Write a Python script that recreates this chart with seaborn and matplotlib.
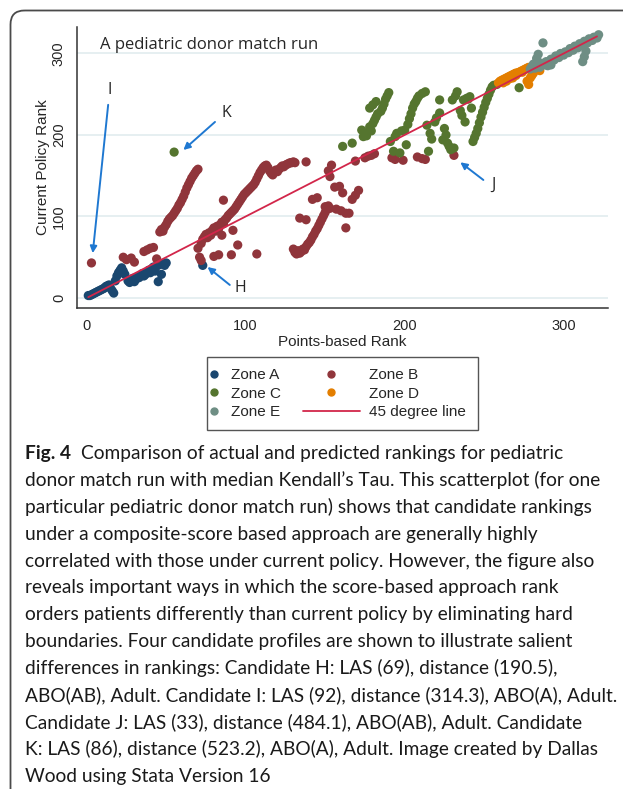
import matplotlib
matplotlib.use("Agg")
import matplotlib.pyplot as plt
from matplotlib.lines import Line2D
from matplotlib.patches import FancyBboxPatch, Rectangle
import pandas as pd
import seaborn as sns


# --------------------------------------------------
# Data: points-based rank (x) vs current policy rank (y)
# --------------------------------------------------
zone_a_x = [1, 2, 3, 4, 5, 6, 7, 8, 9, 10, 11, 12, 13, 14, 15, 16, 17, 18, 19, 20, 21, 22, 23, 24,
            26, 27, 28, 29, 30, 31, 32, 33, 34, 35, 36, 37, 38, 39, 40, 41, 42, 43, 44, 45, 46, 47, 48, 49, 50,
            73]
zone_a_y = [3, 3, 4, 5, 6, 7, 8, 9, 10, 11, 12, 14, 15, 16, 12, 9, 6, 21, 27, 31, 34, 37, 33, 29,
            21, 19, 22, 24, 20, 23, 26, 25, 28, 30, 27, 29, 32, 34, 31, 36, 38, 33, 39, 20, 41, 29, 42, 40, 43,
            40]

zone_b_x = [3,
            23, 25, 28, 30, 36, 38, 40, 42, 44,
            46, 47, 48, 49, 50, 51, 52, 53, 54, 55, 56, 57, 58, 59, 60, 61, 62, 63, 64, 65, 66, 67, 68, 69, 70,
            71, 72, 70, 80, 83, 91, 107, 95, 86, 85, 92,
            72, 73, 74, 75, 76, 77, 78, 79, 80, 81,
            82, 83, 84, 85, 86, 87, 88, 89, 90, 91,
            92, 93, 94, 95, 96, 97, 98, 99, 100, 101,
            102, 103, 104, 105, 106, 107, 108, 109, 110, 111,
            112, 113, 114, 115, 116, 117, 118, 119, 120, 121,
            122, 123, 124, 125, 126, 127, 128, 129, 130, 131, 138,
            130, 131, 132, 133, 134, 135, 136, 137, 138, 139,
            140, 141, 142, 143, 144, 145, 146, 147, 148, 149,
            150, 151, 152, 134, 138, 142, 145, 150, 153, 157,
            160, 163, 165, 163, 167, 169, 171, 156, 159, 161,
            153, 152, 154,
            169, 175, 177, 179, 181, 192, 194, 199, 208, 211, 213, 231]
zone_b_y = [43,
            50, 47, 49, 44, 57, 59, 61, 62, 48,
            81, 84, 82, 87, 90, 94, 97, 99, 101, 104, 107, 110, 114, 117, 121, 125, 130, 135, 139, 143, 147, 150, 153, 156, 158,
            50, 46, 61, 51, 53, 53, 54, 65, 120, 77, 83,
            67, 72, 75, 78, 74, 80, 77, 83, 86, 82,
            88, 85, 90, 93, 91, 96, 98, 101, 103, 105,
            107, 109, 112, 115, 118, 121, 124, 127, 129, 131,
            133, 135, 137, 139, 142, 146, 150, 154, 157, 160,
            162, 163, 160, 156, 153, 151, 154, 157, 155, 158,
            160, 162, 161, 163, 164, 165, 166, 166, 167, 166, 167,
            60, 56, 54, 58, 55, 57, 60, 59, 63, 66,
            68, 71, 75, 78, 82, 85, 89, 93, 97, 101,
            105, 109, 113, 98, 96, 121, 123, 112, 110, 109,
            107, 104, 104, 86, 121, 126, 132, 136, 137, 129,
            149, 156, 163,
            168, 172, 174, 175, 177, 172, 170, 169, 173, 171, 170, 175]

zone_c_x = [55, 161, 167,
            173, 174, 175, 176, 178, 179, 180, 181, 182, 183,
            178, 180, 182, 185, 186, 187, 188, 189, 190,
            191, 193, 194, 195, 197, 198, 200, 201, 202, 203,
            204, 205, 206, 207, 208, 209, 211, 213, 214, 215,
            216, 217, 219, 220, 222, 222,
            224, 225, 226, 227, 228, 229, 231, 230, 232, 233,
            235, 236, 237, 238, 239, 240, 242,
            243, 244, 245, 246, 247, 248, 249, 250, 251, 252,
            253, 254, 255, 256, 258, 272, 241]
zone_c_y = [179, 186, 190,
            206, 198, 202, 199, 210, 205, 214, 218, 222, 226,
            233, 237, 241, 229, 233, 238, 244, 248, 252,
            192, 180, 198, 202, 178, 205, 206, 188, 213, 220,
            226, 233, 238, 241, 245, 248, 251, 253, 212, 180,
            202, 195, 216, 221, 227, 243,
            194, 208, 200, 190, 186, 182, 184, 243, 248, 253,
            230, 224, 243, 216, 245, 244, 233,
            192, 197, 202, 208, 215, 222, 228, 234, 240, 245,
            250, 255, 259, 261, 262, 258, 247]

zone_d_x = [259, 260, 261, 262, 263, 264, 265, 266, 267, 268,
            269, 270, 271, 272, 273, 274, 275, 276, 277, 278,
            279, 277, 278, 279, 280, 281, 285, 262, 266, 270,
            274, 264, 268]
zone_d_y = [264, 266, 267, 268, 269, 270, 271, 272, 273, 274,
            275, 276, 276, 277, 278, 279, 280, 281, 282, 283,
            280, 266, 262, 270, 273, 276, 279, 264, 269, 273,
            277, 266, 270]

zone_e_x = [279, 280, 282, 283, 285, 286, 288, 289, 291, 292,
            294, 295, 297, 298, 300, 301, 303, 304, 306, 307,
            309, 310, 312, 313, 315, 316, 318, 319, 321, 322,
            287, 284, 283, 281, 314, 313, 312, 290, 292]
zone_e_y = [281, 284, 282, 285, 283, 288, 286, 290, 288, 293,
            292, 297, 295, 300, 298, 302, 301, 306, 304, 309,
            307, 312, 310, 315, 313, 318, 316, 320, 319, 323,
            313, 299, 294, 287, 303, 296, 290, 285, 286]

zone_names = ['Zone A', 'Zone B', 'Zone C', 'Zone D', 'Zone E']
zone_colors = ['#1a476f', '#90353b', '#55752f', '#e37e00', '#6e8e84']

line_x = [1, 321]
line_y = [1, 321]

x_ticks = [0, 100, 200, 300]
y_ticks = [0, 100, 200, 300]

# candidate call-outs: label, label position, arrow tail, arrow tip
callout_labels = ['I', 'K', 'H', 'J']
callout_text_xy = [(14.7, 255), (88, 227), (96.4, 12), (255.6, 138.6)]
callout_tail_xy = [(13.5, 237), (80.7, 216), (90, 16), (249.5, 144.8)]
callout_tip_xy = [(3.8, 55), (60.8, 181.6), (76, 38), (235, 166.5)]

caption_lines = [
    "Comparison of actual and predicted rankings for pediatric",
    "donor match run with median Kendall\u2019s Tau. This scatterplot (for one",
    "particular pediatric donor match run) shows that candidate rankings",
    "under a composite-score based approach are generally highly",
    "correlated with those under current policy. However, the figure also",
    "reveals important ways in which the score-based approach rank",
    "orders patients differently than current policy by eliminating hard",
    "boundaries. Four candidate profiles are shown to illustrate salient",
    "differences in rankings: Candidate H: LAS (69), distance (190.5),",
    "ABO(AB), Adult. Candidate I: LAS (92), distance (314.3), ABO(A), Adult.",
    "Candidate J: LAS (33), distance (484.1), ABO(AB), Adult. Candidate",
    "K: LAS (86), distance (523.2), ABO(A), Adult. Image created by Dallas",
    "Wood using Stata Version 16",
]

# --------------------------------------------------
# Build the long table
# --------------------------------------------------
zone_xs = [zone_a_x, zone_b_x, zone_c_x, zone_d_x, zone_e_x]
zone_ys = [zone_a_y, zone_b_y, zone_c_y, zone_d_y, zone_e_y]
frames = []
for name, xs, ys in zip(zone_names, zone_xs, zone_ys):
    frames.append(pd.DataFrame({'points_rank': xs, 'policy_rank': ys, 'zone': name}))
df = pd.concat(frames, ignore_index=True)
line_df = pd.DataFrame({'points_rank': line_x, 'policy_rank': line_y})

sns.set_style('white')
plt.rcParams['font.family'] = ['Liberation Sans', 'DejaVu Sans']

W, H = 623, 789
fig = plt.figure(figsize=(W / 100, H / 100), dpi=100)

# full-figure axes in pixel units for the frame, legend and caption
bg = fig.add_axes([0, 0, 1, 1])
bg.set_xlim(0, W)
bg.set_ylim(H, 0)
bg.axis('off')
bg.add_patch(FancyBboxPatch((10.5, 10.5), 700, 900, boxstyle='round,pad=0,rounding_size=14',
                            fill=False, ec='#4a4a4a', lw=1.3))

# --------------------------------------------------
# Scatter
# --------------------------------------------------
ax = fig.add_axes([77 / W, 1 - 308 / H, (608 - 77) / W, (308 - 27) / H])
ax.set_facecolor('none')
sns.scatterplot(data=df, x='points_rank', y='policy_rank', hue='zone', hue_order=zone_names,
                palette=zone_colors, s=44, linewidth=0, alpha=1, legend=False, ax=ax, zorder=3)
sns.lineplot(data=line_df, x='points_rank', y='policy_rank', color='#d2264a', lw=1.3, ax=ax, zorder=4)

ax.set_xlim(-6.1, 327.9)
ax.set_ylim(-12.3, 332.5)
ax.set_xticks(x_ticks)
ax.set_yticks(y_ticks)
ax.grid(axis='y', color='#e4eef0', lw=1.3)
ax.set_axisbelow(True)
for side in ['top', 'right']:
    ax.spines[side].set_visible(False)
for side in ['left', 'bottom']:
    ax.spines[side].set_color('#333333')
    ax.spines[side].set_linewidth(1.1)
ax.tick_params(direction='out', length=5, width=1.1, color='#333333', labelsize=10.5, pad=3)
ax.tick_params(axis='y', labelrotation=90)
for lab in ax.get_yticklabels():
    lab.set_va('center')
ax.set_xlabel('Points-based Rank', fontsize=11, labelpad=1)
ax.set_ylabel('Current Policy Rank', fontsize=11, labelpad=1)

ax.text(8.4, 310, 'A pediatric donor match run', fontsize=12, family=['Open Sans', 'DejaVu Sans'],
        va='center', ha='left')

arrow_col = '#1f78d1'
for lab, txy, tail, tip in zip(callout_labels, callout_text_xy, callout_tail_xy, callout_tip_xy):
    ax.annotate('', xy=tip, xytext=tail,
                arrowprops=dict(arrowstyle='-|>', color=arrow_col, lw=1.4, mutation_scale=10,
                                shrinkA=0, shrinkB=0), zorder=5)
    ax.text(txy[0], txy[1], lab, fontsize=11.5, family=['Open Sans', 'DejaVu Sans'],
            ha='center', va='center')

# --------------------------------------------------
# Legend (two columns like Stata)
# --------------------------------------------------
def dot(c):
    return Line2D([], [], marker='o', ls='', color=c, markersize=5)

bg.add_patch(Rectangle((207, 357), 271, 73, fill=False, ec='#555555', lw=1))
leg1 = bg.legend(handles=[dot(zone_colors[0]), dot(zone_colors[2]), dot(zone_colors[4])],
                 labels=['Zone A', 'Zone C', 'Zone E'], loc='upper left',
                 bbox_to_anchor=(209.6, 368), bbox_transform=bg.transData, frameon=False,
                 handlelength=0.6, handletextpad=0.8, labelspacing=0.31, fontsize=11,
                 borderpad=0, borderaxespad=0)
bg.add_artist(leg1)
bg.legend(handles=[dot(zone_colors[1]), dot(zone_colors[3]),
                   Line2D([], [], color='#d2264a', lw=1.3)],
          labels=['Zone B', 'Zone D', '45 degree line'], loc='upper left',
          bbox_to_anchor=(303, 368), bbox_transform=bg.transData, frameon=False,
          handlelength=3.7, handletextpad=0.6, labelspacing=0.31, fontsize=11,
          borderpad=0, borderaxespad=0)

# --------------------------------------------------
# Caption
# --------------------------------------------------
cap_font = ['Lato', 'DejaVu Sans']
cap_size = 13.8
y0, dy = 459, 26.9
fig_lbl = bg.text(25, y0, 'Fig. 4', fontsize=cap_size, fontweight='bold', family=cap_font,
                  va='baseline', color='#1a1a1a')
bg.annotate(caption_lines[0], xy=(1, 0), xycoords=fig_lbl, xytext=(7, 0), textcoords='offset points',
            fontsize=cap_size, family=cap_font, va='bottom', color='#1a1a1a')
for i, line in enumerate(caption_lines[1:], start=1):
    bg.text(25, y0 + i * dy, line, fontsize=cap_size, family=cap_font, va='baseline', color='#1a1a1a')

fig.savefig('out.png', dpi=100)
